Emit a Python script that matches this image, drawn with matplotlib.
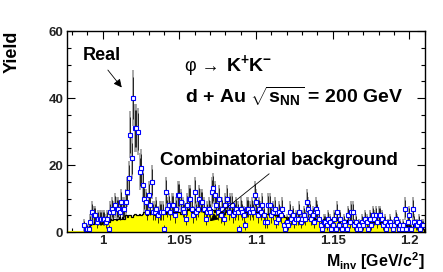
import numpy as np
import matplotlib
matplotlib.use("Agg")
import matplotlib.pyplot as plt
from matplotlib.ticker import MultipleLocator

plt.rcParams['font.family'] = ['Liberation Sans', 'DejaVu Sans']
plt.rcParams['mathtext.fontset'] = 'custom'
plt.rcParams['mathtext.rm'] = 'Liberation Sans:bold'
plt.rcParams['mathtext.it'] = 'Liberation Sans:bold'
plt.rcParams['mathtext.bf'] = 'Liberation Sans:bold'

# invariant mass bins (1 MeV wide), first bin centre and count
m_first = 0.988
bin_w = 0.001

# real (same event) K+K- pairs, one value per bin
real = [
    2, 1, 1, 1, 3, 6, 5, 5, 3, 4,
    4, 4, 4, 4, 3, 4, 1, 6, 7, 6,
    8, 7, 7, 6, 9, 7, 7, 9, 12, 16,
    29, 22, 40, 31, 31, 30, 18, 19, 14, 10,
    9, 6, 11, 8, 15, 6, 6, 7, 5, 6,
    6, 6, 1, 12, 7, 8, 6, 8, 8, 5,
    7, 11, 11, 9, 7, 6, 4, 8, 10, 10,
    7, 5, 12, 6, 7, 10, 9, 9, 7, 4,
    6, 7, 6, 12, 13, 11, 8, 6, 10, 5,
    7, 4, 8, 10, 6, 8, 8, 5, 6, 7,
    6, 1, 7, 6, 5, 2, 7, 7, 6, 7,
    6, 11, 9, 5, 7, 6, 8, 5, 3, 3,
    8, 8, 5, 6, 7, 3, 4, 6, 5, 7,
    2, 1, 3, 2, 6, 4, 5, 3, 4, 4,
    6, 3, 4, 5, 4, 9, 7, 6, 4, 5,
    3, 7, 6, 4, 2, 1, 3, 3, 2, 4,
    3, 1, 2, 4, 1, 6, 2, 4, 1, 3,
    2, 1, 5, 3, 6, 6, 2, 3, 1, 2,
    1, 3, 2, 4, 3, 1, 4, 2, 5, 4,
    5, 3, 5, 5, 4, 2, 3, 1, 2, 3,
    2, 1, 2, 4, 3, 1, 2, 1, 2, 7,
    1, 3, 5, 1, 7, 3, 2, 2, 3, 1,
    2, 2,
]

# combinatorial background (mixed events), one value per bin
background = [
    0.5, 1, 1.5, 1.5, 2, 2.5, 2.5, 3, 3, 3,
    3, 2.5, 3, 3.5, 3, 3.5, 3, 4, 3.5, 4,
    4, 3.5, 4, 4.5, 4, 4.5, 4, 5, 4.5, 5,
    5, 4.5, 5, 5.5, 5, 5, 5.5, 5, 5.5, 6,
    5.5, 5, 6, 5.5, 6, 5.5, 5, 6, 5.5, 6,
    6, 5.5, 6, 5.5, 6, 6.5, 6, 5.5, 6, 6,
    6.5, 6, 6, 5.5, 6, 6.5, 6, 6.5, 7, 6.5,
    6, 6.5, 7, 6.5, 6, 6.5, 7, 6.5, 6, 6.5,
    6, 6.5, 6, 7, 6.5, 6, 6.5, 6, 6.5, 6,
    6, 5.5, 6, 6.5, 6, 5.5, 6, 6.5, 6, 6,
    6.5, 6, 5.5, 6, 6.5, 6, 5.5, 6, 6, 6.5,
    6, 6.5, 6, 5.5, 6, 5.5, 6, 5.5, 5, 5.5,
    5.5, 5, 5.5, 5, 5.5, 5, 4.5, 5, 5, 4.5,
    5, 4.5, 4, 4.5, 4.5, 4, 4.5, 4, 4, 4.5,
    4, 4.5, 4, 4.5, 5, 4.5, 4, 4.5, 4.5, 4,
    4.5, 4, 4.5, 4, 4, 3.5, 4, 4, 3.5, 4,
    4, 3.5, 3.5, 4, 3.5, 3.5, 3, 3.5, 3.5, 3,
    3.5, 3, 3.5, 3.5, 3, 3, 3.5, 3, 3, 2.5,
    3, 3, 2.5, 3, 3, 2.5, 3, 2.5, 3, 3,
    3, 2.5, 3, 2.5, 3, 3, 2.5, 3, 2.5, 2.5,
    2.5, 2, 2.5, 2.5, 2, 2, 2.5, 2, 1.5, 2,
    2, 1.5, 2, 1.5, 1.5, 2, 1.5, 1.5, 1, 1.5,
    1.5, 1,
]

real = np.array(real, dtype=float)
background = np.array(background, dtype=float)
n = len(real)
m = m_first + bin_w * np.arange(n)
err = np.sqrt(np.maximum(real, 1))

fig = plt.figure(figsize=(4.43, 2.72), dpi=100)
ax = fig.add_axes([0.1506, 0.147, 0.8094, 0.739])

# grey error bars sit behind the yellow background histogram
ax.errorbar(m, real, yerr=1.3 * err, fmt='none', ecolor='#9a9a9a', elinewidth=1.2, zorder=1)

edges = np.append(m - bin_w / 2, m[-1] + bin_w / 2)
ax.stairs(background, edges, fill=True, color='#ffff00', zorder=2)
ax.stairs(background, edges, color='black', lw=0.9, zorder=4)
ax.axhline(0.15, color='#ffff00', lw=1.5, zorder=2)

# black statistical error bars, blue open squares
ax.errorbar(m, real, yerr=err, fmt='none', ecolor='black', elinewidth=0.55, zorder=3)
ax.plot(m, real, ls='none', marker='s', ms=2.2, mfc='white', mec='#0000ff', mew=0.8, zorder=5)

ax.set_xlim(0.9765, 1.2103)
ax.set_ylim(0, 60)
ax.xaxis.set_minor_locator(MultipleLocator(0.01))
ax.yaxis.set_major_locator(MultipleLocator(20))
ax.yaxis.set_minor_locator(MultipleLocator(5))
ax.set_xticks([1.0, 1.05, 1.1, 1.15, 1.2])
ax.set_xticklabels(['1', '1.05', '1.1', '1.15', '1.2'])
ax.tick_params(which='both', direction='in', top=True, right=True, width=0.8)
ax.tick_params(which='major', length=6, labelsize=9.5, pad=2.5)
ax.tick_params(which='minor', length=3)
for lab in ax.get_xticklabels() + ax.get_yticklabels():
    lab.set_fontweight('bold')
    lab.set_color('#222222')
for s in ax.spines.values():
    s.set_linewidth(1.0)
    s.set_zorder(6)

# annotations
ax.text(0.9995, 52.8, 'Real', ha='center', va='center', fontsize=13, fontweight='bold')
ax.annotate('', xy=(1.0135, 42.5), xytext=(1.0022, 49.0),
            arrowprops=dict(arrowstyle='-|>', color='black', lw=0.6, mutation_scale=12))
ax.text(1.0537, 48.2, 'φ →', ha='left', va='baseline', fontsize=13,
        family=['Liberation Sans', 'DejaVu Sans'])
ax.text(1.0805, 48.2, r'$\mathbf{K^{+}K^{-}}$', ha='left', va='baseline', fontsize=14)
ax.text(1.0537, 38.6, r'd + Au $\sqrt{\mathbf{s_{NN}}}$ = 200 GeV', ha='left', va='baseline',
        fontsize=14, fontweight='bold')
ax.text(1.0374, 20.0, 'Combinatorial background', ha='left', va='baseline',
        fontsize=13.5, fontweight='bold')
ax.annotate('', xy=(1.0685, 2.7), xytext=(1.1099, 17.9),
            arrowprops=dict(arrowstyle='-|>', color='black', lw=0.6, mutation_scale=12), zorder=6)

fig.text(12 / 443, 1 - 52 / 272, 'Yield', rotation=90, ha='center', va='center',
         fontsize=13, fontweight='bold')
fig.text(425 / 443, 1 - 250 / 272, r'M$_{\mathbf{inv}}$ [GeV/c$^{\mathbf{2}}$]', ha='right', va='top',
         fontsize=11.5, fontweight='bold')

fig.savefig('out.png', dpi=100)
